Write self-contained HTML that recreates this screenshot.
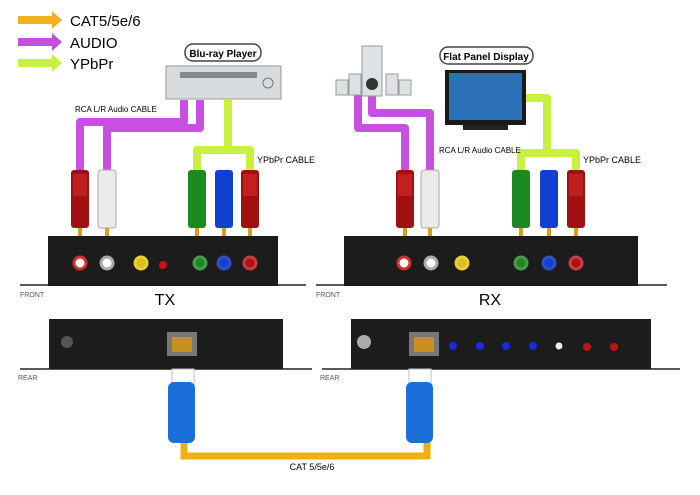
<!DOCTYPE html><html><head><style>body{margin:0;background:#fff}svg{display:block}text{font-family:"Liberation Sans",sans-serif}</style></head><body>
<svg width="700" height="495" viewBox="0 0 700 495" xmlns="http://www.w3.org/2000/svg">
<defs>
<g id="plugR"><rect x="-9" y="0" width="18" height="58" rx="3" fill="#a01010"/><rect x="-7" y="4" width="14" height="22" fill="#c02020"/><rect x="-2" y="58" width="4" height="9" fill="#d4a020"/></g>
</defs>
<g><path d="M18 16h34v-5l10 9-10 9v-5h-34z" fill="#f0b020"/><text x="70" y="26" font-size="15">CAT5/5e/6</text>
<path d="M18 38h34v-5l10 9-10 9v-5h-34z" fill="#c050e0"/><text x="70" y="48" font-size="15">AUDIO</text>
<path d="M18 59h34v-5l10 9-10 9v-5h-34z" fill="#c8f040"/><text x="70" y="69" font-size="15">YPbPr</text></g>
<rect x="185" y="44" width="76" height="17" rx="8" fill="#fff" stroke="#444" stroke-width="1.5"/>
<text x="223" y="57" font-size="10" font-weight="bold" text-anchor="middle">Blu-ray Player</text>
<rect x="166" y="66" width="115" height="33" fill="#d8dcdf" stroke="#999"/><rect x="180" y="72" width="77" height="6" fill="#888"/><circle cx="268" cy="83" r="5" fill="none" stroke="#777"/>
<g fill="none" stroke-width="8" stroke-linejoin="round">
<path d="M184 100V122H80V172" stroke="#c850e0"/><path d="M200 100V128H107V172" stroke="#c850e0"/>
<path d="M228 100V150M197 172V150H250V172" stroke="#c8f040"/>
<path d="M358 95V128H405V172" stroke="#c850e0"/><path d="M372 95V113H430V172" stroke="#c850e0"/>
<path d="M525 98H547V153M521 172V153H576V172" stroke="#c8f040"/>
</g>
<text x="75" y="112" font-size="8">RCA L/R Audio CABLE</text><text x="257" y="163" font-size="9">YPbPr CABLE</text>
<text x="439" y="153" font-size="8">RCA L/R Audio CABLE</text><text x="583" y="163" font-size="9">YPbPr CABLE</text>
<rect x="362" y="46" width="20" height="50" fill="#dfe2e4" stroke="#999"/><circle cx="372" cy="84" r="6" fill="#333"/>
<rect x="336" y="80" width="12" height="15" fill="#dfe2e4" stroke="#999"/><rect x="349" y="74" width="12" height="21" fill="#dfe2e4" stroke="#999"/><rect x="386" y="74" width="12" height="21" fill="#dfe2e4" stroke="#999"/><rect x="399" y="80" width="12" height="15" fill="#dfe2e4" stroke="#999"/>
<rect x="440" y="47" width="93" height="17" rx="8" fill="#fff" stroke="#444" stroke-width="1.5"/>
<text x="486" y="60" font-size="10" font-weight="bold" text-anchor="middle">Flat Panel Display</text>
<rect x="445" y="70" width="81" height="55" fill="#1a1a1a"/><rect x="449" y="73" width="73" height="47" fill="#2a70b8"/><rect x="463" y="125" width="45" height="5" fill="#222"/>
<g>
<use href="#plugR" x="80" y="170"/>
<g transform="translate(107,170)"><rect x="-9" y="0" width="18" height="58" rx="3" fill="#eaeaea" stroke="#aaa"/><rect x="-2" y="58" width="4" height="9" fill="#d4a020"/></g>
<g transform="translate(197,170)"><rect x="-9" y="0" width="18" height="58" rx="3" fill="#1a8a20"/><rect x="-2" y="58" width="4" height="9" fill="#d4a020"/></g>
<g transform="translate(224,170)"><rect x="-9" y="0" width="18" height="58" rx="3" fill="#1040d0"/><rect x="-2" y="58" width="4" height="9" fill="#d4a020"/></g>
<use href="#plugR" x="250" y="170"/>
<use href="#plugR" x="405" y="170"/>
<g transform="translate(430,170)"><rect x="-9" y="0" width="18" height="58" rx="3" fill="#eaeaea" stroke="#aaa"/><rect x="-2" y="58" width="4" height="9" fill="#d4a020"/></g>
<g transform="translate(521,170)"><rect x="-9" y="0" width="18" height="58" rx="3" fill="#1a8a20"/><rect x="-2" y="58" width="4" height="9" fill="#d4a020"/></g>
<g transform="translate(549,170)"><rect x="-9" y="0" width="18" height="58" rx="3" fill="#1040d0"/><rect x="-2" y="58" width="4" height="9" fill="#d4a020"/></g>
<use href="#plugR" x="576" y="170"/>
</g>
<g stroke="#222" stroke-width="1.5"><path d="M20 285H306M316 285H667M20 369H312M322 369H680"/></g>
<rect x="48" y="236" width="230" height="50" fill="#1c1c1c"/><rect x="344" y="236" width="294" height="50" fill="#1c1c1c"/>
<g stroke-width="3"><circle cx="80" cy="263" r="6" fill="#fff" stroke="#d03030"/><circle cx="107" cy="263" r="6" fill="#fff" stroke="#aaa"/><circle cx="141" cy="263" r="6" fill="#d8c020" stroke="#e8d030"/><circle cx="200" cy="263" r="6" fill="#1a8a20" stroke="#4a9a50"/><circle cx="224" cy="263" r="6" fill="#1040d0" stroke="#3050c0"/><circle cx="250" cy="263" r="6" fill="#b01010" stroke="#c04040"/>
<circle cx="404" cy="263" r="6" fill="#fff" stroke="#d03030"/><circle cx="431" cy="263" r="6" fill="#fff" stroke="#aaa"/><circle cx="462" cy="263" r="6" fill="#d8c020" stroke="#e8d030"/><circle cx="521" cy="263" r="6" fill="#1a8a20" stroke="#4a9a50"/><circle cx="549" cy="263" r="6" fill="#1040d0" stroke="#3050c0"/><circle cx="576" cy="263" r="6" fill="#b01010" stroke="#c04040"/></g>
<circle cx="163" cy="265" r="4" fill="#d01010"/>
<text x="20" y="297" font-size="7" fill="#555">FRONT</text><text x="316" y="297" font-size="7" fill="#555">FRONT</text>
<text x="165" y="305" font-size="16" text-anchor="middle">TX</text><text x="490" y="305" font-size="16" text-anchor="middle">RX</text>
<rect x="49" y="319" width="234" height="50" fill="#1c1c1c"/><rect x="351" y="319" width="300" height="50" fill="#1c1c1c"/>
<circle cx="67" cy="342" r="6" fill="#555"/><circle cx="364" cy="342" r="7" fill="#aaa"/>
<rect x="167" y="332" width="30" height="24" fill="#777"/><rect x="172" y="337" width="20" height="15" fill="#c89020"/>
<rect x="409" y="332" width="30" height="24" fill="#777"/><rect x="414" y="337" width="20" height="15" fill="#c89020"/>
<g fill="#1a2ae0"><circle cx="453" cy="346" r="4"/><circle cx="480" cy="346" r="4"/><circle cx="506" cy="346" r="4"/><circle cx="533" cy="346" r="4"/></g>
<circle cx="559" cy="346" r="3.5" fill="#eee"/><circle cx="587" cy="347" r="4" fill="#c81010"/><circle cx="614" cy="347" r="4" fill="#c81010"/>
<text x="18" y="380" font-size="7" fill="#555">REAR</text><text x="320" y="380" font-size="7" fill="#555">REAR</text>
<path d="M184 442V456H427V442" fill="none" stroke="#f0b010" stroke-width="7"/>
<rect x="172" y="369" width="22" height="16" fill="#fff" stroke="#bbb"/><rect x="168" y="382" width="27" height="61" rx="6" fill="#1a70d8"/>
<rect x="409" y="369" width="22" height="16" fill="#fff" stroke="#bbb"/><rect x="406" y="382" width="27" height="61" rx="6" fill="#1a70d8"/>
<text x="312" y="470" font-size="9" text-anchor="middle">CAT 5/5e/6</text>
</svg></body></html>
